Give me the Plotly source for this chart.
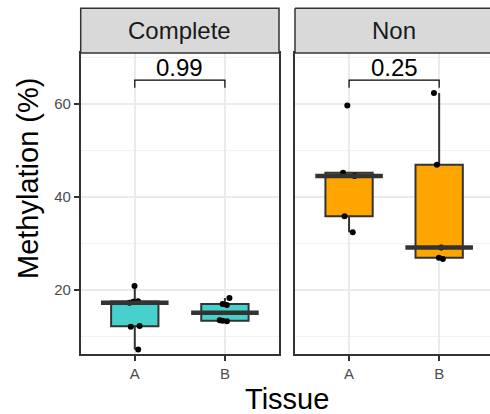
import numpy as np
import plotly.graph_objects as go

# ---- data ----
tissues = ["A", "B"]
facets = ["Complete", "Non"]
complete_A = [7.1, 12.0, 12.2, 17.2, 17.4, 17.5, 20.8]
complete_B = [13.2, 13.3, 13.4, 16.7, 16.9, 18.2]
non_A = [32.4, 35.8, 44.5, 45.2, 59.7]
non_B = [26.6, 26.9, 29.1, 46.9, 62.4]
p_values = ["0.99", "0.25"]
fill_colors = ["#48D1CC", "#FFA500"]
y_ticks = [20, 40, 60]

facet_data = {"Complete": [complete_A, complete_B], "Non": [non_A, non_B]}

W, H = 490, 414
M_T, M_B = 53, 60
PH = H - M_T - M_B

fig = go.Figure()

all_vals = complete_A + complete_B + non_A + non_B
data_max, data_min = max(all_vals), min(all_vals)
bracket_y = data_max + 0.05 * (data_max - data_min)
tip = 0.03 * (data_max - data_min)

PX_PER_UNIT = 90.1
xdomains = [[80.7 / W, 279 / W], [295 / W, 1.0]]
xranges = [[-0.6, 1.6], [-0.6, -0.6 + 195 / PX_PER_UNIT]]
box_half = 0.375

shapes = []
annotations = []
for i, facet in enumerate(facets):
    xs, ys = [], []
    for t, vals in zip(tissues, facet_data[facet]):
        xs += [t] * len(vals)
        ys += vals
    sfx = "" if i == 0 else str(i + 1)
    fig.add_trace(go.Box(
        x=xs, y=ys, xaxis="x" + sfx, yaxis="y" + sfx,
        fillcolor=fill_colors[i],
        line=dict(color="#333333", width=2),
        boxpoints="all", pointpos=0, jitter=0.3,
        marker=dict(color="black", size=6),
        quartilemethod="inclusive", whiskerwidth=0,
        showlegend=False,
    ))
    # thick median lines
    for j, (t, vals) in enumerate(zip(tissues, facet_data[facet])):
        m = float(np.median(vals))
        shapes.append(dict(type="line", xref="x" + sfx, yref="y" + sfx,
                           x0=j - box_half, x1=j + box_half, y0=m, y1=m,
                           line=dict(color="#333333", width=4.5)))
    # significance bracket
    shapes.append(dict(type="path", xref="x" + sfx, yref="y" + sfx,
                       path=f"M 0,{bracket_y - tip} L 0,{bracket_y} L 1,{bracket_y} L 1,{bracket_y - tip}",
                       line=dict(color="black", width=1.2)))
    annotations.append(dict(x=0.5, y=bracket_y, xref="x" + sfx, yref="y" + sfx,
                            text=p_values[i], showarrow=False,
                            xanchor="center", yanchor="bottom",
                            yshift=-3, font=dict(size=24, color="black")))
    # strip
    x0, x1 = xdomains[i]
    ytop = (PH + M_T - 8.3) / PH
    if i == 0:
        shapes.append(dict(type="rect", xref="paper", yref="paper", x0=x0, x1=x1,
                           y0=1, y1=ytop, fillcolor="#D9D9D9",
                           line=dict(color="#333333", width=1.5), layer="above"))
        xc = (x0 + x1) / 2
    else:
        shapes.append(dict(type="rect", xref="paper", yref="paper", x0=x0, x1=1.01,
                           y0=1, y1=ytop, fillcolor="#D9D9D9",
                           line=dict(width=0), layer="above"))
        for seg in [(x0, 1, x0, ytop), (x0, 1, 1.01, 1), (x0, ytop, 1.01, ytop)]:
            shapes.append(dict(type="line", xref="paper", yref="paper",
                               x0=seg[0], y0=seg[1], x1=seg[2], y1=seg[3],
                               line=dict(color="#333333", width=1.5)))
        xc = x0 + (2.2 * PX_PER_UNIT / W) / 2
    annotations.append(dict(x=xc, y=(ytop + 1) / 2, xref="paper", yref="paper",
                            text=facet, showarrow=False,
                            xanchor="center", yanchor="middle",
                            font=dict(size=24, color="#1A1A1A")))

annotations.append(dict(x=287 / W, y=(PH + M_T - 399) / PH, xref="paper", yref="paper",
                        text="Tissue", showarrow=False, xanchor="center", yanchor="middle",
                        font=dict(size=29, color="black")))
annotations.append(dict(x=28 / W, y=(PH + M_T - 179) / PH, xref="paper", yref="paper",
                        text="Methylation (%)", textangle=-90, showarrow=False,
                        xanchor="center", yanchor="middle",
                        font=dict(size=29, color="black")))

common_x = dict(type="category", categoryorder="array", categoryarray=tissues,
                showline=True, mirror=True, linecolor="#333333", linewidth=1.5,
                ticks="outside", ticklen=5, tickcolor="#333333", tickwidth=1.5,
                tickfont=dict(size=15, color="#4D4D4D"),
                showgrid=True, gridcolor="#EBEBEB", gridwidth=1.5, zeroline=False)
yrange = [6.14, 71.0]
minor = dict(dtick=10, tick0=0, showgrid=True, gridcolor="#F2F2F2", gridwidth=0.8, ticks="")

fig.update_layout(
    width=W, height=H,
    margin=dict(l=0, r=0, t=M_T, b=M_B),
    paper_bgcolor="white", plot_bgcolor="white",
    font=dict(family="Liberation Sans, Arial, sans-serif"),
    boxgap=0.25,
    xaxis=dict(domain=xdomains[0], range=xranges[0], anchor="y", **common_x),
    xaxis2=dict(domain=xdomains[1], range=xranges[1], anchor="y2", **common_x),
    yaxis=dict(domain=[0, 1], range=yrange, anchor="x", tickvals=y_ticks,
               showline=True, mirror=True, linecolor="#333333", linewidth=1.5,
               ticks="outside", ticklen=5, tickcolor="#333333", tickwidth=1.5,
               tickfont=dict(size=15, color="#4D4D4D"),
               showgrid=True, gridcolor="#EBEBEB", gridwidth=1.5, zeroline=False,
               minor=minor),
    yaxis2=dict(domain=[0, 1], range=yrange, anchor="x2", tickvals=y_ticks,
                showline=True, mirror=False, linecolor="#333333", linewidth=1.5,
                ticks="", showticklabels=False,
                showgrid=True, gridcolor="#EBEBEB", gridwidth=1.5, zeroline=False,
                minor=minor),
    shapes=shapes, annotations=annotations,
)

fig.write_html("out.html", config={"displayModeBar": False},
               post_script="document.body.style.margin='0';document.body.style.padding='0';")
